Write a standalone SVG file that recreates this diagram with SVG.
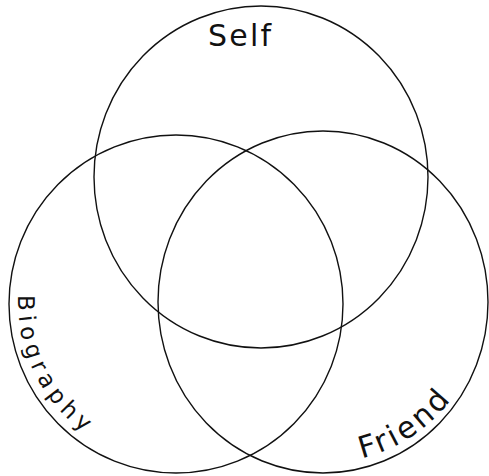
<svg xmlns="http://www.w3.org/2000/svg" width="489" height="476" viewBox="0 0 489 476">
<style>
.c{fill:none;stroke:#111;stroke-width:1.4}
.t{font-family:"DejaVu Sans","Liberation Sans",sans-serif;fill:#111}
</style>
<defs>
<path id="pb" d="M18.6,290.2 A160,160 0 0 0 109.2,447.2"/>
<path id="pf" d="M351,460.6 A161,161 0 0 0 468.9,370"/>
</defs>
<rect width="489" height="476" fill="#fff"/>
<g id="connectors"></g>
<g id="self">
<ellipse class="c" cx="261" cy="177" rx="167" ry="171"/>
<text class="t" x="208" y="46" font-size="30" textLength="63" lengthAdjust="spacing">Self</text>
</g>
<g id="biography">
<ellipse class="c" cx="176" cy="304" rx="167" ry="169"/>
<text class="t" font-size="23"><textPath href="#pb" startOffset="5" textLength="158" lengthAdjust="spacing">Biography</textPath></text>
</g>
<g id="friend">
<ellipse class="c" cx="323" cy="302" rx="165" ry="171"/>
<text class="t" font-size="30"><textPath href="#pf" startOffset="11" textLength="108" lengthAdjust="spacing">Friend</textPath></text>
</g>
</svg>
